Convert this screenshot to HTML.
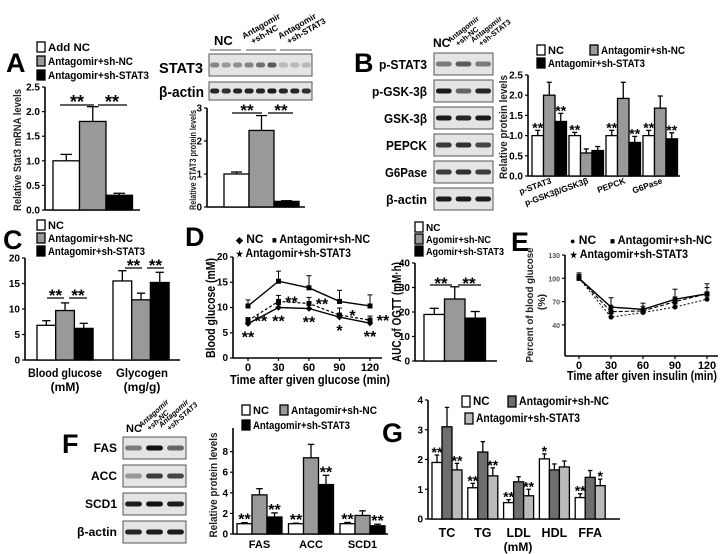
<!DOCTYPE html>
<html><head><meta charset="utf-8"><style>
html,body{margin:0;padding:0;background:#fff;}
svg{display:block;font-family:"Liberation Sans",Arial,sans-serif;font-weight:bold;}
</style></head><body>
<svg id="fig" width="723" height="554" viewBox="0 0 723 554">
<rect x="0" y="0" width="723" height="554" fill="#fff"/>
<!-- Panel A -->
<text x="6" y="72" font-size="27">A</text>
<g>
<rect x="37" y="42" width="8" height="10" fill="#fff" stroke="#000" stroke-width="1.3"/>
<text x="48" y="51" font-size="11" textLength="42" lengthAdjust="spacingAndGlyphs">Add NC</text>
<rect x="37" y="56" width="8" height="10" fill="#999" stroke="#000" stroke-width="1.3"/>
<text x="48" y="65" font-size="11" textLength="85" lengthAdjust="spacingAndGlyphs">Antagomir+sh-NC</text>
<rect x="37" y="70" width="8" height="10" fill="#000" stroke="#000" stroke-width="1.3"/>
<text x="48" y="79" font-size="11" textLength="101" lengthAdjust="spacingAndGlyphs">Antagomir+sh-STAT3</text>
</g>
<text transform="translate(21,150) rotate(-90)" font-size="11" text-anchor="middle" fill="#222" textLength="122" lengthAdjust="spacingAndGlyphs">Relative Stat3 mRNA levels</text>
<text x="159" y="73" font-size="15" textLength="44" lengthAdjust="spacingAndGlyphs">STAT3</text>
<text x="159" y="97" font-size="15" textLength="45" lengthAdjust="spacingAndGlyphs">β-actin</text>
<text x="214" y="45" font-size="13">NC</text>
<text transform="translate(248,46) rotate(-30)" font-size="8.5"><tspan x="0" dy="-8">Antagomir</tspan><tspan x="5" dy="9">+sh-NC</tspan></text>
<text transform="translate(284,46) rotate(-30)" font-size="8.5"><tspan x="0" dy="-8">Antagomir</tspan><tspan x="5" dy="9">+sh-STAT3</tspan></text>
<line x1="210" y1="50" x2="241" y2="50" stroke="#555"/>
<line x1="246" y1="50" x2="276" y2="50" stroke="#555"/>
<line x1="280" y1="50" x2="312" y2="50" stroke="#555"/>
<text transform="translate(196,160) rotate(-90)" font-size="9" text-anchor="middle" fill="#222" textLength="100" lengthAdjust="spacingAndGlyphs">Relative STAT3 protein levels</text>
<!-- Panel B -->
<text x="354" y="72" font-size="27">B</text>
<text x="433" y="47" font-size="12">NC</text>
<text transform="translate(455,49) rotate(-38)" font-size="7.5"><tspan x="0" dy="-8">Antagomir</tspan><tspan x="4" dy="8">+sh-NC</tspan></text>
<text transform="translate(478,49) rotate(-38)" font-size="7.5"><tspan x="0" dy="-8">Antagomir</tspan><tspan x="4" dy="8">+sh-STAT3</tspan></text>
<g font-size="12.5" text-anchor="end">
<text x="427" y="69" textLength="48" lengthAdjust="spacingAndGlyphs">p-STAT3</text>
<text x="427" y="96" textLength="55" lengthAdjust="spacingAndGlyphs">p-GSK-3β</text>
<text x="427" y="123" textLength="43" lengthAdjust="spacingAndGlyphs">GSK-3β</text>
<text x="427" y="150" textLength="41" lengthAdjust="spacingAndGlyphs">PEPCK</text>
<text x="427" y="177" textLength="42" lengthAdjust="spacingAndGlyphs">G6Pase</text>
<text x="427" y="204" textLength="41" lengthAdjust="spacingAndGlyphs">β-actin</text>
</g>
<g font-size="11">
<rect x="537" y="45" width="8" height="10" fill="#fff" stroke="#000" stroke-width="1.3"/>
<text x="548" y="54">NC</text>
<rect x="590" y="45" width="8" height="10" fill="#999" stroke="#000" stroke-width="1.3"/>
<text x="601" y="54" textLength="84" lengthAdjust="spacingAndGlyphs">Antagomir+sh-NC</text>
<rect x="537" y="58" width="8" height="10" fill="#000" stroke="#000" stroke-width="1.3"/>
<text x="548" y="67" textLength="97" lengthAdjust="spacingAndGlyphs">Antagomir+sh-STAT3</text>
</g>
<text transform="translate(507,127) rotate(-90)" font-size="11" text-anchor="middle" fill="#222" textLength="104" lengthAdjust="spacingAndGlyphs">Relative protein levels</text>
<!-- Panel C -->
<text x="3" y="249" font-size="27">C</text>
<g font-size="11">
<rect x="37" y="220" width="8" height="10" fill="#fff" stroke="#000" stroke-width="1.3"/>
<text x="48" y="229">NC</text>
<rect x="37" y="233" width="8" height="10" fill="#999" stroke="#000" stroke-width="1.3"/>
<text x="48" y="242" textLength="85" lengthAdjust="spacingAndGlyphs">Antagomir+sh-NC</text>
<rect x="37" y="246" width="8" height="10" fill="#000" stroke="#000" stroke-width="1.3"/>
<text x="48" y="255" textLength="97" lengthAdjust="spacingAndGlyphs">Antagomir+sh-STAT3</text>
</g>
<g font-size="12" text-anchor="middle">
<text x="65" y="377" textLength="74" lengthAdjust="spacingAndGlyphs">Blood glucose</text>
<text x="65" y="391">(mM)</text>
<text x="142" y="377" textLength="52" lengthAdjust="spacingAndGlyphs">Glycogen</text>
<text x="142" y="391">(mg/g)</text>
</g>
<!-- Panel D -->
<text x="185" y="246" font-size="27">D</text>
<g font-size="12">
<text x="236" y="243"><tspan font-size="9">◆</tspan> NC</text>
<text x="272" y="243" textLength="98" lengthAdjust="spacingAndGlyphs"><tspan font-size="9">■</tspan> Antagomir+sh-NC</text>
<text x="236" y="257" textLength="115" lengthAdjust="spacingAndGlyphs"><tspan font-size="9">★</tspan> Antagomir+sh-STAT3</text>
</g>
<text transform="translate(215,308) rotate(-90)" font-size="13" text-anchor="middle" textLength="100" lengthAdjust="spacingAndGlyphs">Blood glucose (mM)</text>
<text x="310" y="384" font-size="13" text-anchor="middle" textLength="160" lengthAdjust="spacingAndGlyphs">Time after given glucose (min)</text>
<g font-size="10">
<rect x="415" y="222" width="8" height="10" fill="#fff" stroke="#000" stroke-width="1.3"/>
<text x="426" y="231">NC</text>
<rect x="415" y="234" width="8" height="10" fill="#999" stroke="#000" stroke-width="1.3"/>
<text x="426" y="243" textLength="65" lengthAdjust="spacingAndGlyphs">Agomir+sh-NC</text>
<rect x="415" y="246" width="8" height="10" fill="#000" stroke="#000" stroke-width="1.3"/>
<text x="426" y="255" textLength="78" lengthAdjust="spacingAndGlyphs">Agomir+sh-STAT3</text>
</g>
<text transform="translate(401,312) rotate(-90)" font-size="12.5" text-anchor="middle" textLength="100" lengthAdjust="spacingAndGlyphs">AUC of OGTT (mM·h)</text>
<!-- Panel E -->
<text x="511" y="251" font-size="27">E</text>
<g font-size="12">
<text x="570" y="244"><tspan font-size="9">●</tspan> NC</text>
<text x="610" y="244" textLength="102" lengthAdjust="spacingAndGlyphs"><tspan font-size="9">■</tspan> Antagomir+sh-NC</text>
<text x="570" y="258" textLength="118" lengthAdjust="spacingAndGlyphs"><tspan font-size="9">★</tspan> Antagomir+sh-STAT3</text>
</g>
<text transform="translate(533,305) rotate(-90)" font-size="10.5" text-anchor="middle" fill="#222" textLength="115" lengthAdjust="spacingAndGlyphs">Percent of blood glucose</text>
<text transform="translate(545,302) rotate(-90)" font-size="10.5" text-anchor="middle" fill="#222">(%)</text>
<text x="642" y="380" font-size="12.5" text-anchor="middle" textLength="150" lengthAdjust="spacingAndGlyphs">Time after given insulin (min)</text>
<!-- Panel F -->
<text x="62" y="453" font-size="27">F</text>
<text x="126" y="432" font-size="11">NC</text>
<text transform="translate(146,433) rotate(-42)" font-size="7.5" font-style="italic"><tspan x="0" dy="-7">Antagomir</tspan><tspan x="4" dy="8">+sh-NC</tspan></text>
<text transform="translate(166,433) rotate(-42)" font-size="7.5" font-style="italic"><tspan x="0" dy="-7">Antagomir</tspan><tspan x="4" dy="8">+sh-STAT3</tspan></text>
<g font-size="12" text-anchor="end">
<text x="117" y="452">FAS</text>
<text x="117" y="480">ACC</text>
<text x="117" y="508">SCD1</text>
<text x="117" y="536" textLength="40" lengthAdjust="spacingAndGlyphs">β-actin</text>
</g>
<g font-size="11">
<rect x="242" y="405" width="8" height="10" fill="#fff" stroke="#000" stroke-width="1.3"/>
<text x="253" y="414">NC</text>
<rect x="280" y="405" width="8" height="10" fill="#999" stroke="#000" stroke-width="1.3"/>
<text x="291" y="414" textLength="86" lengthAdjust="spacingAndGlyphs">Antagomir+sh-NC</text>
<rect x="242" y="420" width="8" height="10" fill="#000" stroke="#000" stroke-width="1.3"/>
<text x="253" y="429" textLength="97" lengthAdjust="spacingAndGlyphs">Antagomir+sh-STAT3</text>
</g>
<text transform="translate(217,485) rotate(-90)" font-size="11" text-anchor="middle" fill="#222" textLength="105" lengthAdjust="spacingAndGlyphs">Relative protein levels</text>
<!-- Panel G -->
<text x="382" y="442" font-size="27">G</text>
<g font-size="11.5">
<rect x="462" y="396" width="8" height="11" fill="#fff" stroke="#000" stroke-width="1.3"/>
<text x="473" y="405">NC</text>
<rect x="508" y="396" width="8" height="11" fill="#6e6e6e" stroke="#000" stroke-width="1.3"/>
<text x="519" y="405" textLength="90" lengthAdjust="spacingAndGlyphs">Antagomir+sh-NC</text>
<rect x="465" y="413" width="8" height="11" fill="#bbb" stroke="#000" stroke-width="1.3"/>
<text x="476" y="422" textLength="104" lengthAdjust="spacingAndGlyphs">Antagomir+sh-STAT3</text>
</g>
<text x="518" y="551" font-size="12" text-anchor="middle">(mM)</text>
</svg>
<script>
// ---------- data ----------
const aGroups=['Add NC','Antagomir+sh-NC','Antagomir+sh-STAT3'];
const aValues=[1.0,1.8,0.3];
const aErrors=[0.13,0.3,0.04];
const aTicks=[0,0.5,1,1.5,2,2.5];
const aTickLabels=['0.0','0.5','1.0','1.5','2.0','2.5'];

const sValues=[1.0,2.32,0.17];
const sErrors=[0.06,0.45,0.02];
const sTicks=[0,1,2,3];
const sTickLabels=['0','1','2','3'];

const bCategories=['p-STAT3','p-GSK3β/GSK3β','PEPCK','G6Pase'];
const bNC=[1.0,1.0,1.0,1.0];
const bNCErr=[0.13,0.08,0.13,0.13];
const bShNC=[2.0,0.57,1.92,1.68];
const bShNCErr=[0.32,0.1,0.4,0.3];
const bShSTAT3=[1.35,0.63,0.83,0.92];
const bShSTAT3Err=[0.2,0.1,0.15,0.15];
const bStarsNC=['**','**','**','**'];
const bStarsSTAT3=['**','','**','**'];
const bTicks=[0,0.5,1,1.5,2,2.5];
const bTickLabels=['0.0','0.5','1.0','1.5','2.0','2.5'];

const cCategories=['Blood glucose','Glycogen'];
const cNC=[6.8,15.5];
const cNCErr=[0.9,2.0];
const cShNC=[9.7,11.8];
const cShNCErr=[1.5,1.3];
const cShSTAT3=[6.2,15.2];
const cShSTAT3Err=[1.0,2.0];
const cTicks=[0,5,10,15,20];

const dTimes=[0,30,60,90,120];
const dShNC=[10.3,15.2,13.9,11.2,10.3];
const dShNCErr=[1.2,2.0,2.4,2.2,2.2];
const dShSTAT3=[7.4,11.2,10.8,8.5,7.5];
const dShSTAT3Err=[0.6,1.2,1.2,1.4,0.8];
const dNC=[6.8,10.0,9.8,8.1,6.9];
const dNCErr=[0.5,0.6,0.6,0.6,0.5];
const dStarsUpper=['**','**','**','*','**'];
const dStarsLower=['**','**','**','*','**'];
const dTicks=[0,5,10,15,20];

const aucValues=[19,25.3,17.5];
const aucErrors=[2.5,5,2.7];
const aucTicks=[0,10,20,30,40];

const eTimes=[0,30,60,90,120];
const eNC=[100,63,60,73,80];
const eNCErr=[7,12,8,13,13];
const eShNC=[100,57,58,70,80];
const eShNCErr=[5,6,6,6,8];
const eShSTAT3=[100,50,56,63,73];
const eShSTAT3Err=[4,4,4,4,4];
const eTicks=[40,70,100,130];

const fCategories=['FAS','ACC','SCD1'];
const fNC=[1.0,1.0,1.0];
const fNCErr=[0.1,0.05,0.12];
const fShNC=[3.8,7.4,1.8];
const fShNCErr=[0.6,1.3,0.45];
const fShSTAT3=[1.65,4.8,0.8];
const fShSTAT3Err=[0.4,0.9,0.15];
const fStarsNC=['**','**','**'];
const fStarsSTAT3=['**','**','**'];
const fTicks=[0,2,4,6,8];

const gCategories=['TC','TG','LDL','HDL','FFA'];
const gNC=[1.9,1.05,0.55,2.02,0.72];
const gNCErr=[0.25,0.15,0.1,0.17,0.13];
const gShNC=[3.1,2.25,1.25,1.65,1.4];
const gShNCErr=[0.65,0.35,0.17,0.2,0.23];
const gShSTAT3=[1.65,1.45,0.78,1.75,1.12];
const gShSTAT3Err=[0.22,0.27,0.22,0.2,0.22];
const gStarsNC=['**','**','**','*','**'];
const gStarsSTAT3=['**','**','**','','*'];
const gTicks=[0,1,2,3,4];

// blot band intensities
const stat3Bands=[0.45,0.35,0.4,0.45,0.55,0.65,0.2,0.2,0.2];
const actin9Bands=[0.9,0.85,0.9,0.9,0.9,0.95,0.9,0.9,0.85];
const bBlotRows=[[0.5,0.65,0.5],[0.95,0.6,0.9],[0.95,0.9,0.95],[0.8,0.85,0.75],[0.8,0.85,0.8],[0.95,0.95,0.95]];
const fBlotRows=[[0.5,1.0,0.6],[0.35,0.8,0.75],[0.95,1.0,0.95],[0.9,0.95,0.95]];

// ---------- helpers ----------
const NS='http://www.w3.org/2000/svg';
const svg=document.getElementById('fig');
function mk(tag,attrs,name,parent){
  const el=document.createElementNS(NS,tag);
  for(const k in attrs) el.setAttribute(k,attrs[k]);
  
  
  (parent||svg).appendChild(el);
  return el;
}
function txt(x,y,s,size,anchor,name,parent,extra){
  const t=mk('text',Object.assign({x:x,y:y,'font-size':size,'text-anchor':anchor||'start'},extra||{}),name,parent);
  t.textContent=s;
  return t;
}

function barChart(o){
  const g=mk('g',{},o.name);
  const ys=v=>o.yZero-v/o.yMax*(o.yZero-o.yTop);
  mk('line',{x1:o.axisX,y1:o.axisTop||o.yTop,x2:o.axisX,y2:o.yZero,stroke:'#000','stroke-width':1.6},o.name+'-y-axis',g);
  mk('line',{x1:o.axisX,y1:o.yZero,x2:o.xEnd,y2:o.yZero,stroke:'#000','stroke-width':1.6},o.name+'-x-axis',g);
  o.ticks.forEach((t,i)=>{
    const y=ys(t);
    mk('line',{x1:o.axisX-3,y1:y,x2:o.axisX,y2:y,stroke:'#000','stroke-width':1.2},o.name+'-y-tick',g);
    txt(o.axisX-5,y+3.5,o.tickLabels?o.tickLabels[i]:String(t),o.fs||10,'end',o.name+'-y-tick-label',g);
  });
  o.series.forEach((s,si)=>{
    s.vals.forEach((v,gi)=>{
      const x=o.firstX+gi*o.groupStep+si*o.barW;
      const y=ys(v), e=s.errs[gi], cx=x+o.barW/2, ye=ys(v+e);
      mk('line',{x1:cx,y1:y,x2:cx,y2:ye,stroke:'#000','stroke-width':1.3},o.name+'-error-bar',g);
      mk('line',{x1:cx-o.barW*0.22,y1:ye,x2:cx+o.barW*0.22,y2:ye,stroke:'#000','stroke-width':1.3},o.name+'-error-cap',g);
      mk('rect',{x:x,y:y,width:o.barW,height:o.yZero-y,fill:s.fill,stroke:'#000','stroke-width':1.3},o.name+'-bar',g);
      if(s.stars && s.stars[gi]) txt(cx,ye+(o.starDy!==undefined?o.starDy:2),s.stars[gi],o.starSize||16,'middle',o.name+'-significance',g);
    });
  });
  return ys;
}

function lineChart(o){
  const g=mk('g',{},o.name);
  const ys=v=>o.yZero-v/o.yMax*(o.yZero-o.yTop);
  const xs=t=>o.xLeft+(t-o.tMin)/(o.tMax-o.tMin)*(o.xRight-o.xLeft);
  mk('line',{x1:o.axisX,y1:o.yTop,x2:o.axisX,y2:o.yZero,stroke:'#000','stroke-width':1.6},o.name+'-y-axis',g);
  mk('line',{x1:o.axisX,y1:o.yZero,x2:o.xEnd,y2:o.yZero,stroke:'#000','stroke-width':1.6},o.name+'-x-axis',g);
  o.ticks.forEach(t=>{
    const y=ys(t);
    mk('line',{x1:o.axisX-3,y1:y,x2:o.axisX,y2:y,stroke:'#000','stroke-width':1.2},o.name+'-y-tick',g);
    txt(o.axisX-5,y+3,String(t),o.yfs||10,'end',o.name+'-y-tick-label',g,o.tickFill?{fill:o.tickFill}:{});
  });
  o.times.forEach(t=>{
    mk('line',{x1:xs(t),y1:o.yZero,x2:xs(t),y2:o.yZero+3,stroke:'#000','stroke-width':1.2},o.name+'-x-tick',g);
    txt(xs(t),o.yZero+13,String(t),o.xfs||11,'middle',o.name+'-x-tick-label',g);
  });
  o.series.forEach(s=>{
    const pts=s.vals.map((v,i)=>xs(o.times[i])+','+ys(v)).join(' ');
    s.vals.forEach((v,i)=>{
      const x=xs(o.times[i]), y=ys(v), ye=ys(v+s.errs[i]);
      mk('line',{x1:x,y1:y,x2:x,y2:ye,stroke:'#000','stroke-width':1},o.name+'-error-bar',g);
      mk('line',{x1:x-2.5,y1:ye,x2:x+2.5,y2:ye,stroke:'#000','stroke-width':1},o.name+'-error-cap',g);
    });
    mk('polyline',{points:pts,fill:'none',stroke:'#000','stroke-width':s.width||1.4,'stroke-dasharray':s.dash||'none'},o.name+'-line',g);
    s.vals.forEach((v,i)=>{
      const x=xs(o.times[i]), y=ys(v);
      if(s.marker==='square') mk('rect',{x:x-2.5,y:y-2.5,width:5,height:5,fill:'#000'},o.name+'-point',g);
      else if(s.marker==='diamond') mk('rect',{x:x-2.3,y:y-2.3,width:4.6,height:4.6,fill:'#000',transform:'rotate(45 '+x+' '+y+')'},o.name+'-point',g);
      else mk('circle',{cx:x,cy:y,r:2.5,fill:'#000'},o.name+'-point',g);
    });
  });
  return {xs:xs,ys:ys,g:g};
}

function blot(x,y,w,h,bands,name){
  const g=mk('g',{},name);
  mk('rect',{x:x,y:y,width:w,height:h,fill:'#e4e4e4',stroke:'#555','stroke-width':1},name+'-frame',g);
  const lw=w/bands.length;
  bands.forEach((b,i)=>{
    mk('rect',{x:x+i*lw+lw*0.1,y:y+h/2-2.5,width:lw*0.8,height:5,rx:2.5,fill:'#111',opacity:b},name+'-band',g);
  });
}

// ---------- panel A ----------
barChart({name:'panel-a-chart',axisX:45,yZero:210,yTop:87,yMax:2.5,ticks:aTicks,tickLabels:aTickLabels,firstX:53,groupStep:0,barW:26.5,xEnd:140,
  series:[{vals:[aValues[0]],errs:[aErrors[0]],fill:'#fff'},{vals:[aValues[1]],errs:[aErrors[1]],fill:'#999'},{vals:[aValues[2]],errs:[aErrors[2]],fill:'#000'}]});
mk('line',{x1:60,y1:105,x2:94,y2:105,stroke:'#000','stroke-width':1.3},'significance-line-a1');
mk('line',{x1:98,y1:105,x2:127,y2:105,stroke:'#000','stroke-width':1.3},'significance-line-a2');
txt(77,108,'**',18,'middle','significance-a1');
txt(112,108,'**',18,'middle','significance-a2');

blot(209,54,103,22,stat3Bands,'stat3-blot');
blot(209,82,103,18,actin9Bands,'actin-blot-a');
barChart({name:'stat3-protein-chart',axisX:207,yZero:207,yTop:108,yMax:3,ticks:sTicks,tickLabels:sTickLabels,firstX:224,groupStep:0,barW:25,xEnd:305,
  series:[{vals:[sValues[0]],errs:[sErrors[0]],fill:'#fff'},{vals:[sValues[1]],errs:[sErrors[1]],fill:'#999'},{vals:[sValues[2]],errs:[sErrors[2]],fill:'#000'}]});
mk('line',{x1:232,y1:113,x2:262,y2:113,stroke:'#000','stroke-width':1.3},'significance-line-s1');
mk('line',{x1:268,y1:113,x2:293,y2:113,stroke:'#000','stroke-width':1.3},'significance-line-s2');
txt(247,116,'**',17,'middle','significance-s1');
txt(281,116,'**',17,'middle','significance-s2');

// ---------- panel B ----------
bBlotRows.forEach((r,i)=>blot(434,53+i*27,59,22,r,'panel-b-blot-'+i));
barChart({name:'panel-b-chart',axisX:528,yZero:176,yTop:75,yMax:2.5,ticks:bTicks,tickLabels:bTickLabels,firstX:532,groupStep:37,barW:11.5,xEnd:680,starSize:14,starDy:2,
  series:[{vals:bNC,errs:bNCErr,fill:'#fff',stars:bStarsNC},{vals:bShNC,errs:bShNCErr,fill:'#999'},{vals:bShSTAT3,errs:bShSTAT3Err,fill:'#000',stars:bStarsSTAT3}]});
bCategories.forEach((c,i)=>{
  const cx=532+i*37+20;
  txt(cx,183,c,8.5,'end','panel-b-category-label',svg,{transform:'rotate(-20 '+cx+' 183)'});
});

// ---------- panel C ----------
barChart({name:'panel-c-chart',axisX:25,yZero:360,yTop:258,yMax:20,ticks:cTicks,firstX:37,groupStep:76,barW:18.7,xEnd:180,
  series:[{vals:cNC,errs:cNCErr,fill:'#fff'},{vals:cShNC,errs:cShNCErr,fill:'#999'},{vals:cShSTAT3,errs:cShSTAT3Err,fill:'#000'}]});
[[47,64,298],[69,87,298],[125,142,268],[147,164,268]].forEach(l=>{
  mk('line',{x1:l[0],y1:l[2],x2:l[1],y2:l[2],stroke:'#000','stroke-width':1.2},'significance-line-c');
  txt((l[0]+l[1])/2,l[2]+3,'**',17,'middle','significance-c');
});

// ---------- panel D ----------
const dC=lineChart({name:'panel-d-chart',axisX:233,yZero:358,yTop:257,yMax:20,ticks:dTicks,times:dTimes,tMin:0,tMax:120,xLeft:248,xRight:370,xEnd:382,
  series:[{vals:dShNC,errs:dShNCErr,marker:'square'},{vals:dShSTAT3,errs:dShSTAT3Err,marker:'square',dash:'3,2',width:1.2},{vals:dNC,errs:dNCErr,marker:'diamond'}]});
dTimes.forEach((t,i)=>{
  txt(dC.xs(t)+13,dC.ys(dShSTAT3[i])+6,dStarsUpper[i],16,'middle','panel-d-significance-upper');
  txt(dC.xs(t),dC.ys(dNC[i])+19,dStarsLower[i],16,'middle','panel-d-significance-lower');
});
barChart({name:'auc-chart',axisX:415,yZero:361,yTop:263,yMax:40,ticks:aucTicks,firstX:424,groupStep:0,barW:20.5,xEnd:497,
  series:[{vals:[aucValues[0]],errs:[aucErrors[0]],fill:'#fff'},{vals:[aucValues[1]],errs:[aucErrors[1]],fill:'#999'},{vals:[aucValues[2]],errs:[aucErrors[2]],fill:'#000'}]});
mk('line',{x1:430,y1:285,x2:452,y2:285,stroke:'#000','stroke-width':1.2},'significance-line-auc1');
mk('line',{x1:458,y1:285,x2:481,y2:285,stroke:'#000','stroke-width':1.2},'significance-line-auc2');
txt(441,289,'**',17,'middle','significance-auc1');
txt(469,289,'**',17,'middle','significance-auc2');

// ---------- panel E ----------
lineChart({name:'panel-e-chart',axisX:565,yZero:356,yTop:255,yMax:130,ticks:eTicks,times:eTimes,tMin:0,tMax:120,xLeft:579,xRight:707,xEnd:718,yfs:7,tickFill:'#555',
  series:[{vals:eNC,errs:eNCErr,marker:'circle'},{vals:eShNC,errs:eShNCErr,marker:'square',dash:'4,2',width:1.1},{vals:eShSTAT3,errs:eShSTAT3Err,marker:'circle',dash:'2,2',width:1}]});

// ---------- panel F ----------
fBlotRows.forEach((r,i)=>blot(123,437+i*28,63,22,r,'panel-f-blot-'+i));
barChart({name:'panel-f-chart',axisX:233,yZero:534,yTop:431,axisTop:428,yMax:10,ticks:fTicks,firstX:237,groupStep:51.5,barW:15,xEnd:388,starSize:16,starDy:2,
  series:[{vals:fNC,errs:fNCErr,fill:'#fff',stars:fStarsNC},{vals:fShNC,errs:fShNCErr,fill:'#999'},{vals:fShSTAT3,errs:fShSTAT3Err,fill:'#000',stars:fStarsSTAT3}]});
fCategories.forEach((c,i)=>txt(259.5+i*51.5,548,c,11,'middle','panel-f-category-label'));

// ---------- panel G ----------
barChart({name:'panel-g-chart',axisX:428,yZero:519,yTop:400,yMax:4,ticks:gTicks,firstX:432,groupStep:35.8,barW:10,xEnd:620,starSize:14,starDy:2,
  series:[{vals:gNC,errs:gNCErr,fill:'#fff',stars:gStarsNC},{vals:gShNC,errs:gShNCErr,fill:'#6e6e6e'},{vals:gShSTAT3,errs:gShSTAT3Err,fill:'#bbb',stars:gStarsSTAT3}]});
gCategories.forEach((c,i)=>txt(447+i*35.8,537,c,12.5,'middle','panel-g-category-label'));
</script>
</body></html>
